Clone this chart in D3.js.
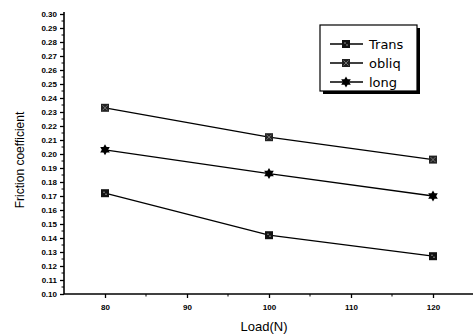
<!DOCTYPE html>
<html><head><meta charset="utf-8">
<script src="https://cdn.jsdelivr.net/npm/d3@7"></script>
<style>body{margin:0;background:#fff}svg{display:block}</style>
</head><body>
<svg id="c" width="473" height="336"></svg>
<script>
const loads = [80, 100, 120];
const trans = [0.172, 0.142, 0.127];
const obliq = [0.233, 0.212, 0.196];
const long = [0.203, 0.186, 0.170];
const seriesNames = ["Trans", "obliq", "long"];
const xTicks = [80, 90, 100, 110, 120];
const yTicks = d3.range(10, 31).map(v => v / 100);

const svg = d3.select("#c");
const x = d3.scaleLinear().domain([75, 125]).range([64, 474]);
const y = d3.scaleLinear().domain([0.10, 0.30]).range([294, 14]);
const font = "Liberation Sans, Arial, sans-serif";

// axes
const yAxis = d3.axisLeft(y).tickValues(yTicks).tickFormat(d3.format(".2f")).tickSize(4).tickPadding(3);
const gy = svg.append("g").attr("transform", `translate(${x.range()[0]},0)`).call(yAxis);
gy.select(".domain").attr("stroke-width", 1.6).attr("d", `M0,${y(0.30)-2}V${y(0.10)}`);
gy.selectAll(".tick line").attr("stroke-width", 1.3);
gy.selectAll("text").attr("font-family", font).attr("font-size", 8).attr("font-weight", "bold").attr("fill", "#000");
// minor y ticks
svg.append("g").selectAll("line").data(d3.range(10, 30).map(v => v / 100 + 0.005)).join("line")
  .attr("x1", 64).attr("x2", 61.5).attr("y1", d => y(d)).attr("y2", d => y(d))
  .attr("stroke", "#000").attr("stroke-width", 1);

const xAxis = d3.axisBottom(x).tickValues(xTicks).tickFormat(d3.format("d")).tickSize(4).tickPadding(6);
const gx = svg.append("g").attr("transform", `translate(0,${y.range()[0]})`).call(xAxis);
gx.select(".domain").attr("stroke-width", 1.6).attr("d", `M${x.range()[0]},0H473`);
gx.selectAll(".tick line").attr("stroke-width", 1.3);
gx.selectAll("text").attr("font-family", font).attr("font-size", 8).attr("font-weight", "bold").attr("fill", "#000");
svg.append("g").selectAll("line").data([85, 95, 105, 115]).join("line")
  .attr("x1", d => x(d)).attr("x2", d => x(d)).attr("y1", 294).attr("y2", 296.5)
  .attr("stroke", "#000").attr("stroke-width", 1);

// axis titles
svg.append("text").attr("transform", "translate(24,160) rotate(-90)").attr("text-anchor", "middle")
  .attr("font-family", font).attr("font-size", 12).text("Friction coefficient");
svg.append("text").attr("x", 264).attr("y", 331).attr("text-anchor", "middle")
  .attr("font-family", font).attr("font-size", 13).text("Load(N)");

// markers
function marker(g, type, cx, cy) {
  const s = 4;
  if (type === 0) {
    g.append("rect").attr("x", cx - s).attr("y", cy - s).attr("width", 2 * s).attr("height", 2 * s).attr("fill", "#111");
    g.append("rect").attr("x", cx - 1.5).attr("y", cy - 1.5).attr("width", 1).attr("height", 1).attr("fill", "#fff");
    g.append("rect").attr("x", cx + 0.5).attr("y", cy + 0.5).attr("width", 1).attr("height", 1).attr("fill", "#fff");
  } else if (type === 1) {
    g.append("rect").attr("x", cx - s).attr("y", cy - s).attr("width", 2 * s).attr("height", 2 * s).attr("fill", "#222");
    g.append("path").attr("d", `M${cx-2.5},${cy-2.5}L${cx+2.5},${cy+2.5}M${cx+2.5},${cy-2.5}L${cx-2.5},${cy+2.5}`)
      .attr("stroke", "#888").attr("stroke-width", 0.8);
  } else {
    const r = 5.5;
    g.append("path").attr("d",
      `M${cx},${cy-r}L${cx+r*0.87},${cy+r*0.5}L${cx-r*0.87},${cy+r*0.5}Z M${cx},${cy+r}L${cx-r*0.87},${cy-r*0.5}L${cx+r*0.87},${cy-r*0.5}Z`)
      .attr("fill", "#000").attr("fill-rule", "nonzero");
  }
}

const allSeries = [trans, obliq, long];
const line = d3.line().x((d, i) => x(loads[i])).y(d => y(d));
allSeries.forEach((vals, k) => {
  const g = svg.append("g");
  g.append("path").datum(vals).attr("d", line).attr("fill", "none").attr("stroke", "#000").attr("stroke-width", 1.3);
  vals.forEach((v, i) => marker(g, k, x(loads[i]), y(v)));
});

// legend
const lg = svg.append("g");
lg.append("rect").attr("x", 323).attr("y", 28).attr("width", 97).attr("height", 66).attr("fill", "#000");
lg.append("rect").attr("x", 320).attr("y", 25).attr("width", 97).attr("height", 66).attr("fill", "#fff")
  .attr("stroke", "#000").attr("stroke-width", 1.2);
seriesNames.forEach((n, k) => {
  const ly = 44 + k * 19;
  lg.append("line").attr("x1", 330).attr("x2", 363).attr("y1", ly).attr("y2", ly).attr("stroke", "#000").attr("stroke-width", 1.3);
  marker(lg, k, 346, ly);
  lg.append("text").attr("x", 369).attr("y", ly + 4.5).attr("font-family", "DejaVu Sans, sans-serif").attr("font-size", 13).text(n);
});
</script>
</body></html>
